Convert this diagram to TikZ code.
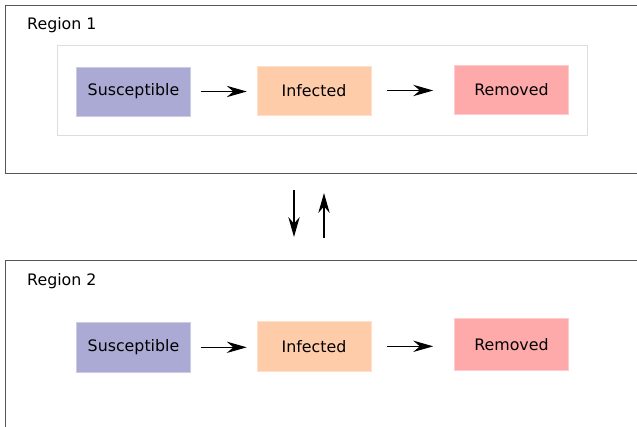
\documentclass[tikz,border=0pt]{standalone}
\usepackage{fontspec}
\setmainfont{DejaVu Sans}
\usepackage{tikz}
\usetikzlibrary{arrows.meta,positioning,fit}
\definecolor{suscol}{HTML}{AAAAD4}
\definecolor{infcol}{HTML}{FFCCAA}
\definecolor{remcol}{HTML}{FFAAAA}
\definecolor{edgecol}{HTML}{555555}
\definecolor{framecol}{HTML}{DDDDDD}

\begin{document}
\begin{tikzpicture}[
    x=0.03cm, y=-0.03cm,
    font=\fontsize{13.5}{16}\selectfont,
    state/.style={rectangle, minimum width=3.42cm, minimum height=1.48cm, inner sep=0pt},
    susceptible/.style={state, fill=suscol, draw=suscol!60!white},
    infected/.style={state, fill=infcol, draw=infcol!60!white},
    removed/.style={state, fill=remcol, draw=remcol!60!white},
    region/.style={draw=edgecol, line width=0.8pt},
    arrow/.style={-{Stealth[length=0.6cm, width=0.34cm, inset=0.2cm]}, line width=0.9pt}
]
\useasboundingbox (0,0) rectangle (637,427);

% Region frames (open to the right / bottom)
\draw[region] (637,5) -- (5,5) -- (5,173) -- (637,173);
\draw[region] (637,260) -- (5,260) -- (5,427);
\node[anchor=west, inner sep=0pt] (label1) at (27,25) {Region 1};
\node[anchor=west, inner sep=0pt] (label2) at (27,281) {Region 2};

% Region 1 compartments
\node[susceptible] (sus1) at (133.5,91.5) {Susceptible};
\node[infected, right=1.98cm of sus1.east, anchor=west, yshift=0.03cm] (inf1) {Infected};
\node[removed, right=2.49cm of inf1.east, anchor=west, yshift=0.03cm] (rem1) {Removed};
\node[draw=framecol, line width=0.6pt, inner xsep=0.57cm, inner ysep=0.58cm, fit=(sus1)(inf1)(rem1)] (frame1) {};

% Region 2 compartments
\node[susceptible, below=6.18cm of sus1] (sus2) {Susceptible};
\node[infected, below=6.18cm of inf1] (inf2) {Infected};
\node[removed, minimum height=1.56cm, below=6.12cm of rem1] (rem2) {Removed};

% Transitions
\draw[arrow, shorten <=0.3cm, shorten >=0.3cm] (sus1) -- (sus1 -| inf1.west);
\draw[arrow, shorten <=0.48cm, shorten >=0.63cm] (inf1) -- (inf1 -| rem1.west);
\draw[arrow, shorten <=0.3cm, shorten >=0.3cm] (sus2) -- (sus2 -| inf2.west);
\draw[arrow, shorten <=0.48cm, shorten >=0.63cm] (inf2) -- (inf2 -| rem2.west);

% Migration between regions
\coordinate (down1) at (294,190);
\coordinate (down2) at (294,237);
\coordinate (up2) at (324,238);
\coordinate (up1) at (324,193);
\draw[arrow] (down1) -- (down2);
\draw[arrow] (up2) -- (up1);

\end{tikzpicture}
\end{document}
